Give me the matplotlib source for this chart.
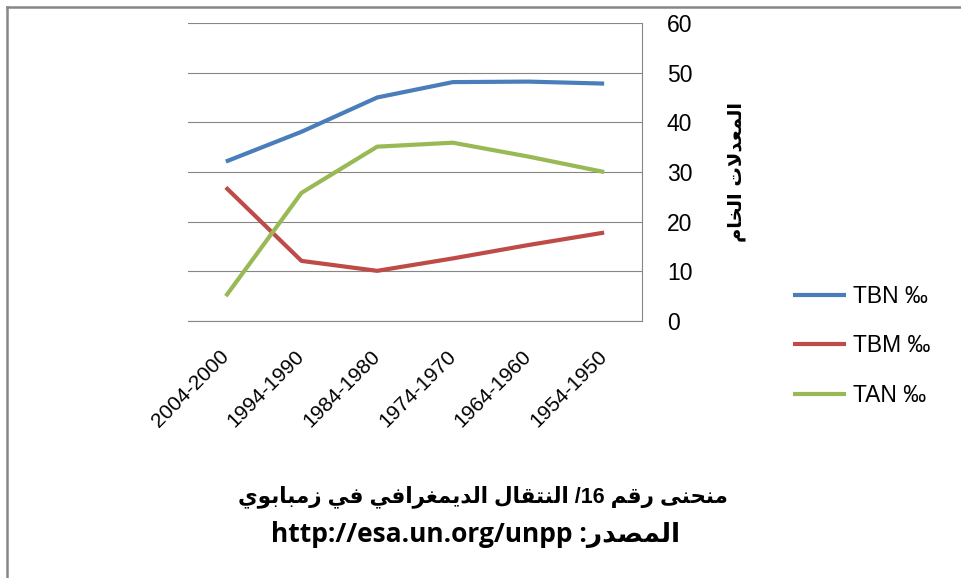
import re
import matplotlib
matplotlib.use("Agg")
import matplotlib.pyplot as plt
from matplotlib.lines import Line2D

# ----- Data -----
periods = ["2004-2000", "1994-1990", "1984-1980", "1974-1970", "1964-1960", "1954-1950"]
tbn = [32.1, 38.1, 45.0, 48.1, 48.2, 47.8]
tbm = [26.9, 12.1, 10.1, 12.6, 15.3, 17.8]
tan = [5.0, 25.8, 35.1, 35.9, 33.1, 30.0]
series_names = ["TBN ‰", "TBM ‰", "TAN ‰"]
series_colors = ["#4A7EBB", "#BE4B48", "#98B954"]

ylabel_text = "المعدلات الخام"
title_line1 = "منحنى رقم 16/ النتقال الديمغرافي في زمبابوي"
title_line2 = "المصدر: http://esa.un.org/unpp"

# ----- minimal Arabic shaping (matplotlib has no bidi/shaping) -----
# isolated, final, initial, medial presentation forms
AR_FORMS = {
    "ا": (0xFE8D, 0xFE8E),
    "ب": (0xFE8F, 0xFE90, 0xFE91, 0xFE92),
    "ت": (0xFE95, 0xFE96, 0xFE97, 0xFE98),
    "ح": (0xFEA1, 0xFEA2, 0xFEA3, 0xFEA4),
    "خ": (0xFEA5, 0xFEA6, 0xFEA7, 0xFEA8),
    "د": (0xFEA9, 0xFEAA),
    "ر": (0xFEAD, 0xFEAE),
    "ز": (0xFEAF, 0xFEB0),
    "ص": (0xFEB9, 0xFEBA, 0xFEBB, 0xFEBC),
    "ع": (0xFEC9, 0xFECA, 0xFECB, 0xFECC),
    "غ": (0xFECD, 0xFECE, 0xFECF, 0xFED0),
    "ف": (0xFED1, 0xFED2, 0xFED3, 0xFED4),
    "ق": (0xFED5, 0xFED6, 0xFED7, 0xFED8),
    "ل": (0xFEDD, 0xFEDE, 0xFEDF, 0xFEE0),
    "م": (0xFEE1, 0xFEE2, 0xFEE3, 0xFEE4),
    "ن": (0xFEE5, 0xFEE6, 0xFEE7, 0xFEE8),
    "و": (0xFEED, 0xFEEE),
    "ى": (0xFEEF, 0xFEF0),
    "ي": (0xFEF1, 0xFEF2, 0xFEF3, 0xFEF4),
    "لا": (0xFEFB, 0xFEFC),
}


def shape(text):
    chars = []
    i = 0
    while i < len(text):
        if text[i] == "ل" and i + 1 < len(text) and text[i + 1] == "ا":
            chars.append("لا")
            i += 2
        else:
            chars.append(text[i])
            i += 1
    out = []
    for k, c in enumerate(chars):
        if c not in AR_FORMS:
            out.append(c)
            continue
        f = AR_FORMS[c]
        prev = chars[k - 1] if k > 0 else None
        nxt = chars[k + 1] if k + 1 < len(chars) else None
        joins_prev = prev in AR_FORMS and len(AR_FORMS[prev]) == 4
        joins_next = len(f) == 4 and nxt in AR_FORMS
        out.append(chr(f[(1 if joins_prev else 0) + (2 if joins_next else 0)]))
    return "".join(out)


LTR_RUN = r"([A-Za-z0-9](?:[A-Za-z0-9:/.]*[A-Za-z0-9])?)"


def visual(text):
    parts = re.split(LTR_RUN, shape(text))
    out = []
    for idx in range(len(parts) - 1, -1, -1):
        p = parts[idx]
        out.append(p if idx % 2 == 1 else p[::-1])
    return "".join(out)


# ----- Plot -----
fig = plt.figure(figsize=(9.62, 5.78), dpi=100)
ax = fig.add_axes([188 / 962, 1 - 321 / 578, 454 / 962, 298 / 578])

for vals, name, col in zip([tbn, tbm, tan], series_names, series_colors):
    ax.plot(periods, vals, color=col, lw=3.0, label=name, solid_capstyle="butt")

ax.set_xlim(-0.5, len(periods) - 0.5)
ax.set_ylim(0, 60)
ax.set_yticks(range(0, 61, 10))
ax.yaxis.tick_right()
ax.grid(axis="y", color="#868686", lw=0.8)
ax.set_axisbelow(True)
for s in ["left", "top"]:
    ax.spines[s].set_visible(False)
for s in ["right", "bottom"]:
    ax.spines[s].set_color("#868686")
    ax.spines[s].set_linewidth(0.8)

ax.tick_params(axis="y", length=0, pad=18, labelsize=16.5)
ax.tick_params(axis="x", length=0, pad=23, labelsize=15)
for lab in ax.get_yticklabels():
    lab.set_family("Liberation Sans")
for lab in ax.get_xticklabels():
    lab.set_family("Liberation Sans")
    lab.set_rotation(45)
    lab.set_ha("right")
    lab.set_va("center")
    lab.set_rotation_mode("anchor")

leg = ax.legend(loc="upper left", bbox_to_anchor=(793 / 962, 1 - 285 / 578),
                bbox_transform=fig.transFigure, frameon=False, borderpad=0,
                borderaxespad=0, handlelength=2.3, handletextpad=0.3,
                labelspacing=1.15, prop={"family": "Liberation Sans", "size": 16.5})

fig.text(737 / 962, 1 - 172 / 578, visual(ylabel_text), rotation=90,
         ha="center", va="center", fontsize=14, fontweight="bold",
         family=["DejaVu Sans"])

fig.text(483 / 962, 1 - 497 / 578, visual(title_line1), ha="center", va="center",
         fontsize=15.5, fontweight="bold", family=["Liberation Sans", "DejaVu Sans"])
fig.text(476 / 962, 1 - 535 / 578, visual(title_line2), ha="center", va="center",
         fontsize=19, fontweight="bold", family=["Open Sans", "DejaVu Sans"])

# outer frame (top and left edges only visible)
fig.add_artist(Line2D([7.5 / 962, 1], [1 - 6.5 / 578] * 2, transform=fig.transFigure,
                      color="#878787", lw=1.8))
fig.add_artist(Line2D([7.5 / 962] * 2, [0, 1 - 6.5 / 578], transform=fig.transFigure,
                      color="#878787", lw=1.8))

fig.savefig("out.png", dpi=100)
